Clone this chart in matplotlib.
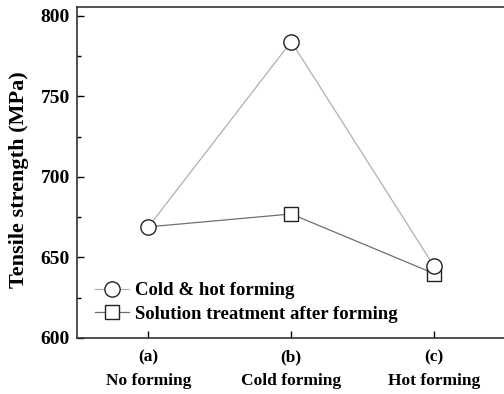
import matplotlib
matplotlib.use("Agg")
import matplotlib.pyplot as plt
from matplotlib.ticker import MultipleLocator

plt.rcParams['font.family'] = ['Liberation Serif', 'DejaVu Serif']
plt.rcParams['font.weight'] = 'bold'

# Daten
categories = ["(a)\nNo forming", "(b)\nCold forming", "(c)\nHot forming"]
cold_hot = [669, 784, 644.5]
solution = [669, 677, 640]

fig = plt.figure(figsize=(5.04, 3.94), dpi=100)
ax = fig.add_axes([77 / 504, 1 - 338 / 394, 428.5 / 504, 331 / 394])

x = range(len(categories))
ax.plot(x, cold_hot, color='#b0b0b0', lw=0.9, marker='o', ms=11,
        mfc='white', mec='#222222', mew=1.0, label='Cold & hot forming', zorder=3)
# bei (a) kein eigenes Quadrat, nur der Kreis
ax.plot(x, solution, color='#707070', lw=0.9, marker='s', ms=10, markevery=[1, 2],
        mfc='white', mec='#222222', mew=1.0, label='Solution treatment after forming', zorder=2.5)

ax.set_xlim(-0.5, 2.5)
ax.set_ylim(600, 805.5)
ax.set_xticks(list(x))
ax.set_xticklabels(categories, fontsize=12.5, fontweight='bold', linespacing=1.65)
ax.yaxis.set_major_locator(MultipleLocator(50))
ax.yaxis.set_minor_locator(MultipleLocator(25))
ax.tick_params(axis='y', direction='in', length=5, width=1, labelsize=14, pad=5)
ax.tick_params(axis='y', which='minor', direction='in', length=3, width=1)
ax.tick_params(axis='x', direction='in', length=5, width=1, pad=8)
for lab in ax.get_yticklabels():
    lab.set_fontweight('bold')
ax.set_ylabel('Tensile strength (MPa)', fontsize=16, fontweight='bold')
ax.yaxis.set_label_coords(-0.112, 0.477)

for s in ax.spines.values():
    s.set_linewidth(1.2)
    s.set_color('#333333')

ax.legend(loc='lower left', bbox_to_anchor=(0.003, -0.005), frameon=False,
          prop={'weight': 'bold', 'size': 13.5}, handlelength=1.8,
          handletextpad=0.35, labelspacing=0.35)

fig.savefig('out.png', dpi=100)
